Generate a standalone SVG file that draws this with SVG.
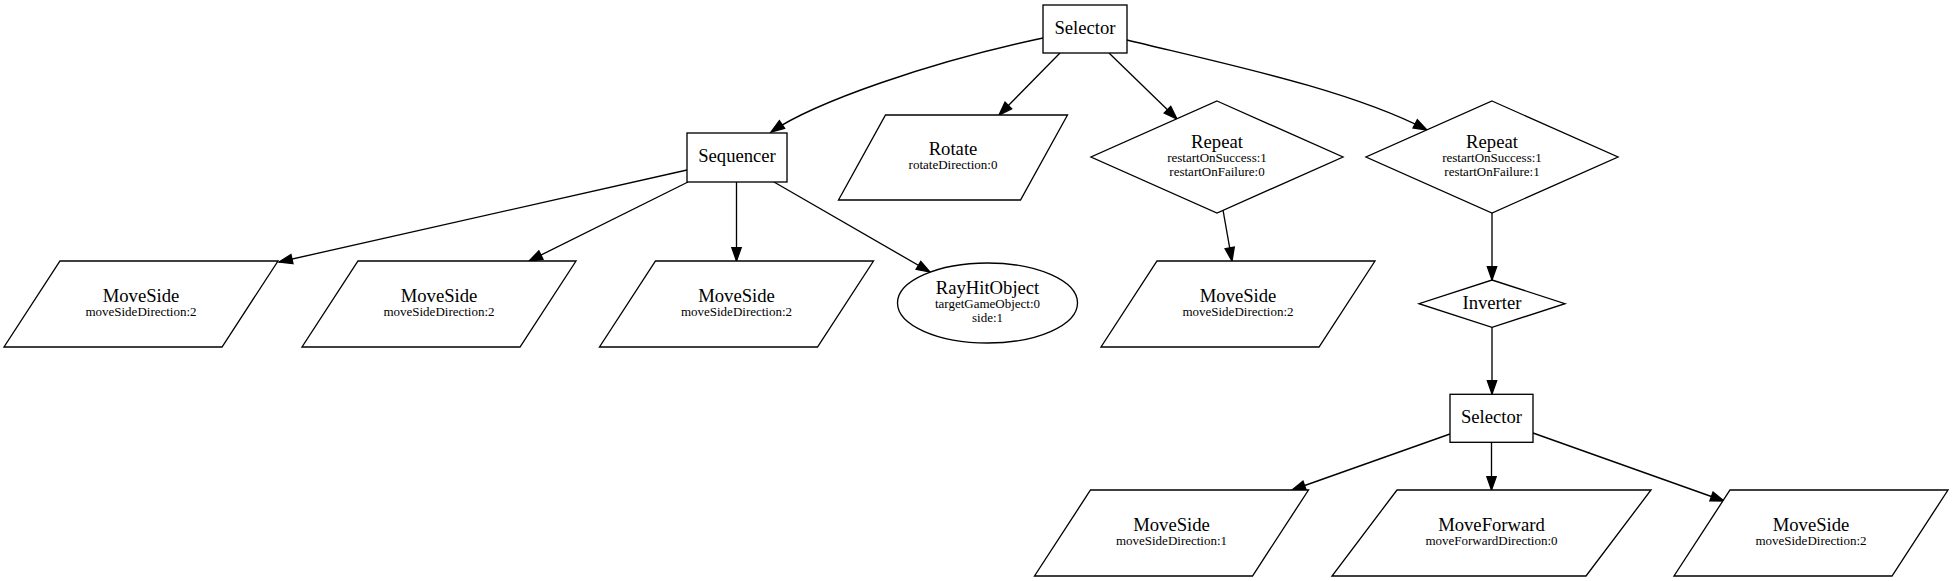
<svg xmlns="http://www.w3.org/2000/svg" width="1954" height="581" viewBox="0 0 1954 581">
<style>
.n{fill:#fff;stroke:#000;stroke-width:1.33}
.e{fill:none;stroke:#000;stroke-width:1.33}
.t{font-family:"Liberation Serif","Times New Roman",serif;font-size:18.67px;text-anchor:middle;fill:#000}
.s{font-family:"Liberation Serif","Times New Roman",serif;font-size:13px;text-anchor:middle;fill:#000}
</style>
<defs>
<marker id="ah" markerUnits="userSpaceOnUse" markerWidth="14" markerHeight="10" refX="13.3" refY="4.67" orient="auto" overflow="visible">
<path d="M0,0 L13.3,4.67 L0,9.33 Z" fill="#000" stroke="#000" stroke-width="1.33"/>
</marker>
</defs>
<rect width="1954" height="581" fill="#fff"/>
<g id="edges">
<path class="e" marker-end="url(#ah)" d="M1043,38 C930,62 815,102 771,132"/>
<path class="e" marker-end="url(#ah)" d="M1060,53 L999,115"/>
<path class="e" marker-end="url(#ah)" d="M1109,53 L1177,119"/>
<path class="e" marker-end="url(#ah)" d="M1127,40 C1230,65 1350,90 1427,130"/>
<path class="e" marker-end="url(#ah)" d="M687,170 L279,262"/>
<path class="e" marker-end="url(#ah)" d="M688,182 L529,261"/>
<path class="e" marker-end="url(#ah)" d="M736.5,182 L736.5,261"/>
<path class="e" marker-end="url(#ah)" d="M774,182 L930,272"/>
<path class="e" marker-end="url(#ah)" d="M1223,210 L1232,261"/>
<path class="e" marker-end="url(#ah)" d="M1492,213 L1492,280"/>
<path class="e" marker-end="url(#ah)" d="M1492,327 L1492,394"/>
<path class="e" marker-end="url(#ah)" d="M1450,434 L1292,490"/>
<path class="e" marker-end="url(#ah)" d="M1491.5,442 L1491.5,490"/>
<path class="e" marker-end="url(#ah)" d="M1533,433 L1724,501"/>
</g>
<g id="selector_root">
<rect class="n" x="1043" y="5" width="84" height="48"/>
<text class="t" x="1085" y="34">Selector</text>
</g>
<g id="sequencer">
<rect class="n" x="687" y="133" width="100" height="49"/>
<text class="t" x="737" y="162">Sequencer</text>
</g>
<g id="rotate">
<polygon class="n" points="885.5,115 1067.5,115 1020.5,200 838.5,200"/>
<text class="t" x="953" y="155">Rotate</text>
<text class="s" x="953" y="169">rotateDirection:0</text>
</g>
<g id="repeat1">
<polygon class="n" points="1217,101 1343,157 1217,213 1091,157"/>
<text class="t" x="1217" y="148">Repeat</text>
<text class="s" x="1217" y="162">restartOnSuccess:1</text>
<text class="s" x="1217" y="176">restartOnFailure:0</text>
</g>
<g id="repeat2">
<polygon class="n" points="1492,101 1618,157 1492,213 1366,157"/>
<text class="t" x="1492" y="148">Repeat</text>
<text class="s" x="1492" y="162">restartOnSuccess:1</text>
<text class="s" x="1492" y="176">restartOnFailure:1</text>
</g>
<g id="moveside1">
<polygon class="n" points="60,261 278,261 222,347 4,347"/>
<text class="t" x="141" y="302">MoveSide</text>
<text class="s" x="141" y="316">moveSideDirection:2</text>
</g>
<g id="moveside2">
<polygon class="n" points="358,261 576,261 520,347 302,347"/>
<text class="t" x="439" y="302">MoveSide</text>
<text class="s" x="439" y="316">moveSideDirection:2</text>
</g>
<g id="moveside3">
<polygon class="n" points="655.5,261 873.5,261 817.5,347 599.5,347"/>
<text class="t" x="736.5" y="302">MoveSide</text>
<text class="s" x="736.5" y="316">moveSideDirection:2</text>
</g>
<g id="rayhitobject">
<ellipse class="n" cx="987.5" cy="303" rx="90" ry="40"/>
<text class="t" x="987.5" y="294">RayHitObject</text>
<text class="s" x="987.5" y="308">targetGameObject:0</text>
<text class="s" x="987.5" y="322">side:1</text>
</g>
<g id="moveside4">
<polygon class="n" points="1157,261 1375,261 1319,347 1101,347"/>
<text class="t" x="1238" y="302">MoveSide</text>
<text class="s" x="1238" y="316">moveSideDirection:2</text>
</g>
<g id="inverter">
<polygon class="n" points="1492,280 1565,303.7 1492,327.3 1419,303.7"/>
<text class="t" x="1492" y="308.5">Inverter</text>
</g>
<g id="selector2">
<rect class="n" x="1450" y="394.3" width="83" height="48"/>
<text class="t" x="1491.5" y="423">Selector</text>
</g>
<g id="moveside5">
<polygon class="n" points="1090.5,490 1308.5,490 1252.5,576 1034.5,576"/>
<text class="t" x="1171.5" y="531">MoveSide</text>
<text class="s" x="1171.5" y="545">moveSideDirection:1</text>
</g>
<g id="moveforward">
<polygon class="n" points="1397,490 1651,490 1586,576 1332,576"/>
<text class="t" x="1491.5" y="531">MoveForward</text>
<text class="s" x="1491.5" y="545">moveForwardDirection:0</text>
</g>
<g id="moveside6">
<polygon class="n" points="1730,490 1948,490 1892,576 1674,576"/>
<text class="t" x="1811" y="531">MoveSide</text>
<text class="s" x="1811" y="545">moveSideDirection:2</text>
</g>
</svg>
